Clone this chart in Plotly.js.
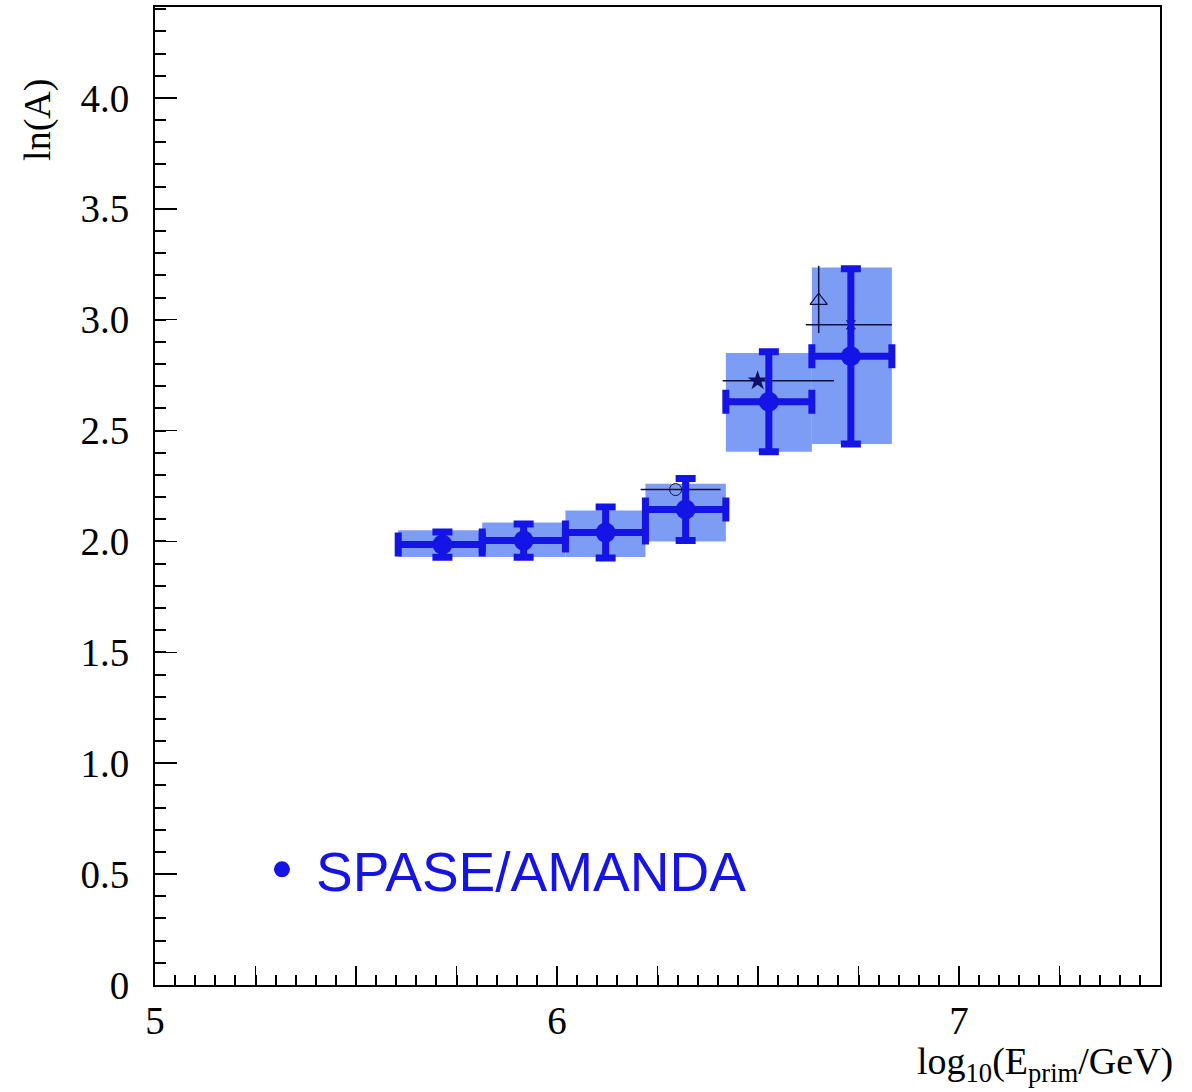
<!DOCTYPE html>
<html>
<head>
<meta charset="utf-8">
<script src="https://cdn.plot.ly/plotly-3.0.1.min.js"></script>
<style>html,body{margin:0;padding:0;background:#fff;}#plot{width:1192px;height:1092px;}</style>
</head>
<body>
<div id="plot"></div>
<script>
// SPASE/AMANDA points
const spaseX   = [5.715, 5.917, 6.121, 6.320, 6.527, 6.731];
const spaseY   = [1.986, 2.004, 2.040, 2.144, 2.630, 2.835];
const spaseErr = [0.057, 0.075, 0.115, 0.140, 0.225, 0.395];
// bin edges (x error extent and systematic boxes)
const binLo = [5.605, 5.814, 6.021, 6.220, 6.420, 6.634];
const binHi = [5.814, 6.021, 6.220, 6.420, 6.634, 6.833];
// systematic band (box) limits
const sysLo = [1.930, 1.930, 1.930, 2.000, 2.405, 2.440];
const sysHi = [2.050, 2.085, 2.140, 2.260, 2.850, 3.235];

// other experiments (thin black overlays)
const starX = [6.499], starY = [2.725], starLo = [6.412], starHi = [6.689];
const circX = [6.295], circY = [2.234], circLo = [6.208], circHi = [6.407];
const triX = [6.651], triY = [3.086], triYLo = [2.940], triYHi = [3.243];
const crossX = [6.731], crossY = [2.977], crossLo = [6.619], crossHi = [6.833];

const blue = '#1414e6';
const boxColor = '#7d9df4';

const sub = (a, b) => a.map((v, i) => v - b[i]);

const shapes = spaseX.map((_, i) => ({
  type: 'rect', xref: 'x', yref: 'y', layer: 'below',
  x0: binLo[i], x1: binHi[i], y0: sysLo[i], y1: sysHi[i],
  fillcolor: boxColor, line: {width: 0}
}));

const traces = [
  {
    x: starX, y: starY, type: 'scatter', mode: 'markers', showlegend: false,
    marker: {symbol: 'star', size: 15, color: '#101060'},
    error_x: {type: 'data', symmetric: false, array: sub(starHi, starX), arrayminus: sub(starX, starLo), color: '#101040', thickness: 1.5, width: 0}
  },
  {
    x: circX, y: circY, type: 'scatter', mode: 'markers', showlegend: false,
    marker: {symbol: 'circle-open', size: 12, color: '#101040', line: {width: 1}},
    error_x: {type: 'data', symmetric: false, array: sub(circHi, circX), arrayminus: sub(circX, circLo), color: '#101040', thickness: 1.5, width: 0}
  },
  {
    x: triX, y: triY, type: 'scatter', mode: 'markers', showlegend: false,
    marker: {symbol: 'triangle-up-open', size: 15, color: '#101040', line: {width: 1.2}},
    error_y: {type: 'data', symmetric: false, array: sub(triYHi, triY), arrayminus: sub(triY, triYLo), color: '#101040', thickness: 1.5, width: 0}
  },
  {
    x: crossX, y: crossY, type: 'scatter', mode: 'markers', showlegend: false,
    marker: {symbol: 'x-thin-open', size: 9, color: '#101040', line: {width: 1.2}},
    error_x: {type: 'data', symmetric: false, array: sub(crossHi, crossX), arrayminus: sub(crossX, crossLo), color: '#101040', thickness: 1.5, width: 0}
  },
  {
    x: spaseX, y: spaseY, type: 'scatter', mode: 'markers', name: 'SPASE/AMANDA',
    marker: {symbol: 'circle', size: 20, color: blue},
    error_y: {type: 'data', array: spaseErr, color: blue, thickness: 7, width: 10},
    error_x: {type: 'data', symmetric: false, array: sub(binHi, spaseX), arrayminus: sub(spaseX, binLo), color: blue, thickness: 7, width: 12}
  }
];

const serif = 'Liberation Serif, Times New Roman, serif';

const layout = {
  width: 1192, height: 1092,
  margin: {l: 155, r: 32, t: 7, b: 107},
  paper_bgcolor: '#fff', plot_bgcolor: '#fff',
  showlegend: true,
  legend: {
    x: 0.0925, y: 0.118, xanchor: 'left', yanchor: 'middle',
    font: {family: 'Liberation Sans, Arial, sans-serif', size: 55, color: blue},
    bgcolor: 'rgba(0,0,0,0)', itemsizing: 'trace', itemwidth: 58
  },
  xaxis: {
    range: [5, 7.5], showgrid: false, zeroline: false,
    showline: true, mirror: true, linecolor: '#000', linewidth: 2,
    tickmode: 'array',
    tickvals: [5, 5.25, 5.5, 5.75, 6, 6.25, 6.5, 6.75, 7, 7.25, 7.5],
    ticktext: ['5', '', '', '', '6', '', '', '', '7', '', ''],
    ticks: 'inside', ticklen: 19, tickwidth: 1.5, tickcolor: '#000',
    tickfont: {family: serif, size: 39, color: '#000'},
    ticklabelstandoff: 0,
    minor: {dtick: 0.05, ticks: 'inside', ticklen: 10, tickwidth: 2, tickcolor: '#000', showgrid: false}
  },
  yaxis: {
    range: [0, 4.41], showgrid: false, zeroline: false,
    showline: true, mirror: true, linecolor: '#000', linewidth: 2,
    tickmode: 'array',
    tickvals: [0, 0.5, 1, 1.5, 2, 2.5, 3, 3.5, 4],
    ticktext: ['0', '0.5', '1.0', '1.5', '2.0', '2.5', '3.0', '3.5', '4.0'],
    ticks: 'inside', ticklen: 22, tickwidth: 1.5, tickcolor: '#000',
    tickfont: {family: serif, size: 39, color: '#000'},
    ticklabelstandoff: 16,
    minor: {dtick: 0.1, ticks: 'inside', ticklen: 11, tickwidth: 2, tickcolor: '#000', showgrid: false}
  },
  shapes: shapes,
  annotations: [
    {
      text: 'ln(A)', xref: 'paper', yref: 'paper', x: -0.117, y: 0.885,
      xanchor: 'center', yanchor: 'middle', textangle: -90, showarrow: false,
      font: {family: serif, size: 38, color: '#000'}
    },
    {
      text: 'log<sub>10</sub>(E<sub>prim</sub>/GeV)', xref: 'paper', yref: 'paper',
      x: 1.015, y: -0.107, xanchor: 'right', yanchor: 'bottom', showarrow: false,
      font: {family: serif, size: 38, color: '#000'}
    }
  ]
};

Plotly.newPlot('plot', traces, layout, {displayModeBar: false, staticPlot: true});
</script>
</body>
</html>
